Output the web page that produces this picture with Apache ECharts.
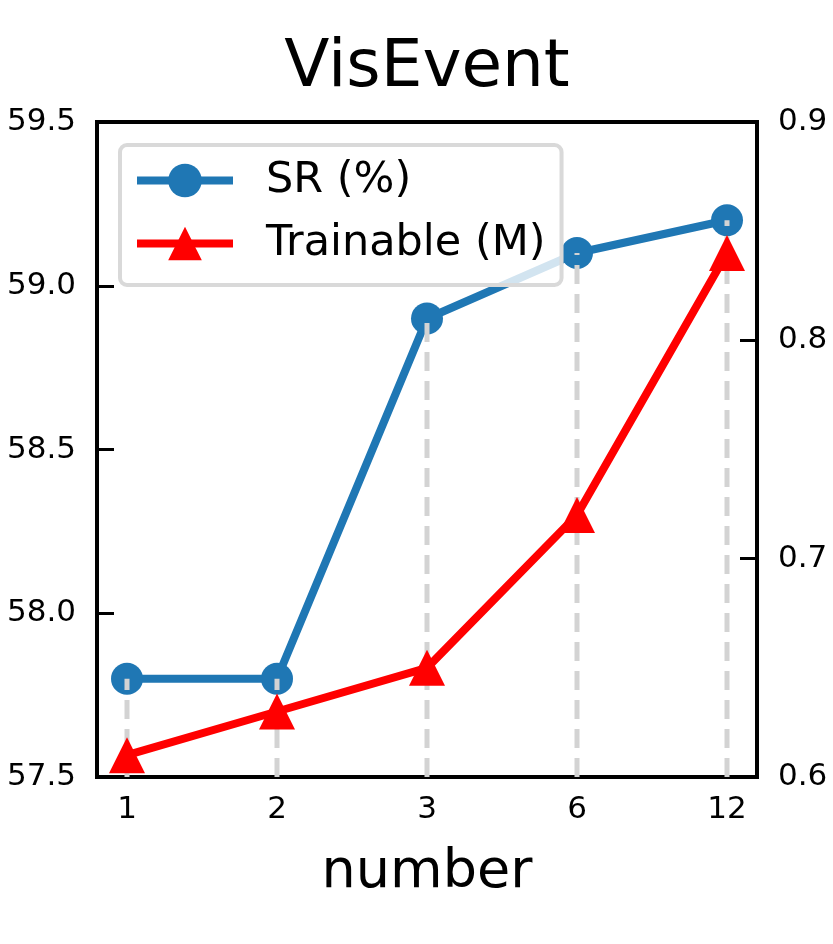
<!DOCTYPE html>
<html>
<head>
<meta charset="utf-8">
<script src="https://cdn.jsdelivr.net/npm/echarts@6/dist/echarts.min.js"></script>
<style>
html,body{margin:0;padding:0;background:#fff}
#chart{width:833px;height:944px}
</style>
</head>
<body>
<div id="chart"></div>
<script>
// 数据
var categories = ['1', '2', '3', '6', '12'];
var srValues = [57.8, 57.8, 58.9, 59.1, 59.2];
var trainValues = [0.61, 0.63, 0.65, 0.72, 0.84];
var srTicks = [57.5, 58.0, 58.5, 59.0, 59.5];
var trainTicks = [0.6, 0.7, 0.8, 0.9];

var FONT = 'DejaVu Sans';
var positions = categories.map(function (c, i) { return i; });
var srPoints = srValues.map(function (v, i) { return [i, v]; });
var trainPoints = trainValues.map(function (v, i) { return [i, v]; });

var myChart = echarts.init(document.getElementById('chart'));

var option = {
    backgroundColor: '#fff',
    animation: false,
    title: {
        text: 'VisEvent',
        left: 422,
        top: 31,
        textAlign: 'center',
        textStyle: { fontFamily: FONT, fontSize: 66, fontWeight: 'normal', color: '#000' }
    },
    legend: {
        data: ['SR (%)', 'Trainable (M)'],
        orient: 'vertical',
        left: 120,
        top: 145,
        z: 10,
        padding: [14, 16, 20, 13],
        itemWidth: 96,
        itemHeight: 42,
        itemGap: 20,
        backgroundColor: 'rgba(255,255,255,0.8)',
        borderColor: '#d9d9d9',
        borderWidth: 4,
        borderRadius: 7,
        lineStyle: { width: 8 },
        textStyle: { fontFamily: FONT, fontSize: 43, color: '#000', padding: [0, 0, 0, 28] }
    },
    grid: {
        left: 97,
        right: 76,
        top: 122,
        bottom: 167,
        show: true,
        borderColor: '#000',
        borderWidth: 4,
        containLabel: false,
        outerBoundsMode: 'none'
    },
    xAxis: {
        type: 'value',
        min: -0.2,
        max: 4.2,
        name: 'number',
        nameLocation: 'middle',
        nameGap: 69,
        nameTextStyle: { fontFamily: FONT, fontSize: 54, color: '#000' },
        axisLine: { show: false, onZero: false },
        splitLine: { show: false },
        axisTick: { inside: true, length: 17, customValues: positions, lineStyle: { color: '#000', width: 3 } },
        axisLabel: {
            customValues: positions,
            margin: 17,
            fontFamily: FONT, fontSize: 31, color: '#000',
            formatter: function (v) {
                var i = Math.round(v);
                return Math.abs(v - i) < 1e-6 && categories[i] !== undefined ? categories[i] : '';
            }
        }
    },
    yAxis: [{
        type: 'value',
        position: 'left',
        min: srTicks[0],
        max: srTicks[srTicks.length - 1],
        interval: 0.5,
        axisLine: { show: false, onZero: false },
        splitLine: { show: false },
        axisTick: { inside: true, length: 17, lineStyle: { color: '#000', width: 3 } },
        axisLabel: {
            margin: 21, fontFamily: FONT, fontSize: 31, color: '#000',
            formatter: function (v) { return v.toFixed(1); }
        }
    }, {
        type: 'value',
        position: 'right',
        min: trainTicks[0],
        max: trainTicks[trainTicks.length - 1],
        interval: 0.1,
        axisLine: { show: false, onZero: false },
        splitLine: { show: false },
        axisTick: { inside: true, length: 17, lineStyle: { color: '#000', width: 3 } },
        axisLabel: {
            margin: 21, fontFamily: FONT, fontSize: 31, color: '#000',
            formatter: function (v) { return v.toFixed(1); }
        }
    }],
    series: [{
        name: 'SR (%)',
        type: 'line',
        yAxisIndex: 0,
        data: srPoints,
        z: 2,
        symbol: 'circle',
        symbolSize: 32,
        lineStyle: { color: '#1f77b4', width: 8 },
        itemStyle: { color: '#1f77b4', borderWidth: 0 }
    }, {
        // 灰色虚线：从底部画到 SR 点
        name: 'vlines',
        type: 'custom',
        yAxisIndex: 0,
        data: srPoints,
        z: 3,
        encode: { x: 0, y: 1 },
        renderItem: function (params, api) {
            var top = api.coord([api.value(0), api.value(1)]);
            var bottom = api.coord([api.value(0), srTicks[0]]);
            return {
                type: 'line',
                shape: { x1: bottom[0], y1: bottom[1], x2: top[0], y2: top[1] },
                style: { stroke: '#d3d3d3', lineWidth: 5, lineDash: [19, 10] }
            };
        }
    }, {
        name: 'Trainable (M)',
        type: 'line',
        yAxisIndex: 1,
        data: trainPoints,
        z: 4,
        symbol: 'triangle',
        symbolSize: 36,
        lineStyle: { color: '#ff0000', width: 8 },
        itemStyle: { color: '#ff0000', borderWidth: 0 }
    }]
};

myChart.setOption(option);
</script>
</body>
</html>
